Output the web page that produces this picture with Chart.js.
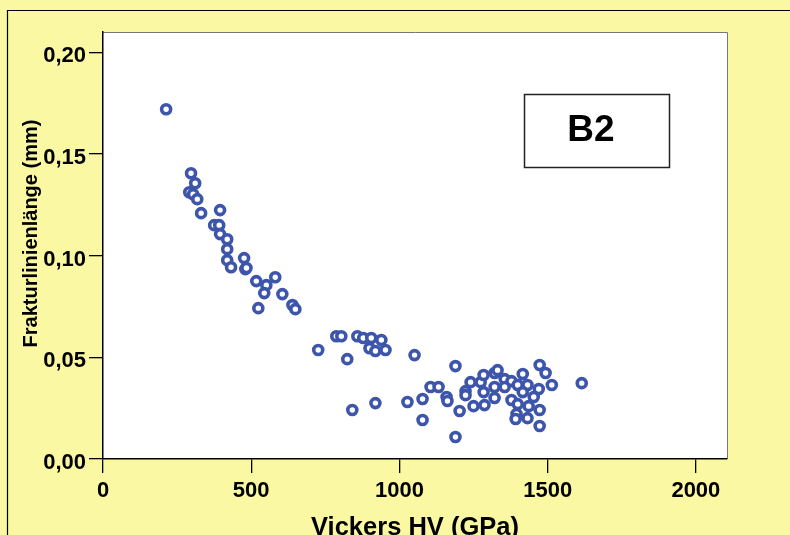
<!DOCTYPE html>
<html>
<head>
<meta charset="utf-8">
<script src="https://cdn.jsdelivr.net/npm/chart.js@4.4.1/dist/chart.umd.min.js"></script>
<style>
  body { margin: 0; background: #FAF8A2; }
  #wrap { width: 790px; height: 535px; }
</style>
</head>
<body>
<div id="wrap"><canvas id="hvChart" width="790" height="535"></canvas></div>
<script>
// Vickers hardness (x) against fracture line length (y), sample B2
const hardness = [213, 297, 311, 291, 304, 318, 331, 395, 375, 392,
  395, 419, 419, 419, 432, 476, 480, 484, 517, 551,
  581, 544, 605, 524, 639, 649, 726, 787, 804, 858,
  878, 905, 939, 899, 919, 953, 824, 1051, 841, 919,
  1027, 1078, 1078, 1105, 1132, 1159, 1162, 1189, 1189, 1203,
  1223, 1223, 1240, 1250, 1274, 1284, 1284, 1287, 1321, 1331,
  1321, 1321, 1355, 1355, 1378, 1399, 1416, 1432, 1416, 1473,
  1493, 1514, 1470, 1453, 1378, 1399, 1436, 1473, 1395, 1392,
  1432, 1473, 1615];
const fractureLength = [0.172, 0.1405, 0.1356, 0.1312, 0.1302, 0.1278, 0.1209, 0.1224, 0.1150, 0.1150,
  0.1106, 0.1081, 0.1032, 0.0978, 0.0943, 0.0988, 0.0934, 0.0939, 0.0875, 0.0855,
  0.0894, 0.0816, 0.0811, 0.0742, 0.0757, 0.0737, 0.0536, 0.0604, 0.0604, 0.0604,
  0.0595, 0.0595, 0.0585, 0.0545, 0.0531, 0.0536, 0.0491, 0.0511, 0.0241, 0.0275,
  0.0280, 0.0295, 0.0192, 0.0354, 0.0354, 0.0305, 0.0285, 0.0457, 0.0108, 0.0236,
  0.0334, 0.0314, 0.0378, 0.0260, 0.0378, 0.0413, 0.0329, 0.0265, 0.0423, 0.0437,
  0.0354, 0.0300, 0.0393, 0.0354, 0.0383, 0.0364, 0.0418, 0.0364, 0.0329, 0.0462,
  0.0423, 0.0364, 0.0344, 0.0305, 0.0290, 0.0270, 0.0260, 0.0241, 0.0221, 0.0197,
  0.0201, 0.0162, 0.0373];
const xTicks = [0, 500, 1000, 1500, 2000];
const yTicks = [0, 0.05, 0.10, 0.15, 0.20];
const sampleLabel = 'B2';

const FONT = '"Liberation Sans", Arial, sans-serif';
const points = hardness.map((h, i) => ({ x: h, y: fractureLength[i] }));

const framePlugin = {
  id: 'frame',
  beforeDraw(chart) {
    const { ctx, chartArea: a } = chart;
    ctx.save();
    ctx.fillStyle = '#FAF8A2';
    ctx.fillRect(0, 0, chart.width, chart.height);
    ctx.strokeStyle = '#000';
    ctx.lineWidth = 1.2;
    ctx.beginPath();
    ctx.moveTo(7.5, chart.height);
    ctx.lineTo(7.5, 10.5);
    ctx.lineTo(chart.width, 10.5);
    ctx.stroke();
    ctx.fillStyle = '#fff';
    ctx.fillRect(a.left, a.top, a.right - a.left, a.bottom - a.top);
    ctx.strokeStyle = '#777';
    ctx.lineWidth = 1;
    ctx.beginPath();
    ctx.moveTo(a.left, a.top + 0.5);
    ctx.lineTo(a.right + 0.5, a.top + 0.5);
    ctx.lineTo(a.right + 0.5, a.bottom);
    ctx.stroke();
    ctx.restore();
  },
  afterDraw(chart) {
    const { ctx } = chart;
    ctx.save();
    // sample label box
    ctx.fillStyle = '#fff';
    ctx.fillRect(524, 94, 145, 73);
    ctx.strokeStyle = '#222';
    ctx.lineWidth = 1.5;
    ctx.strokeRect(524.5, 94.5, 145, 73);
    ctx.fillStyle = '#000';
    ctx.font = 'bold 37px ' + FONT;
    ctx.textAlign = 'center';
    ctx.textBaseline = 'alphabetic';
    ctx.fillText(sampleLabel, 591, 141);
    // y axis title
    ctx.translate(31.5, 233.5);
    ctx.rotate(-Math.PI / 2);
    ctx.font = 'bold 20px ' + FONT;
    ctx.textBaseline = 'middle';
    ctx.fillText('Frakturlinienlänge (mm)', 0, 0);
    ctx.restore();
  }
};

new Chart(document.getElementById('hvChart'), {
  type: 'scatter',
  data: {
    datasets: [{
      label: sampleLabel,
      data: points,
      pointRadius: 4.5,
      pointHoverRadius: 4.5,
      pointBorderWidth: 3.6,
      pointBorderColor: '#3D55AA',
      pointBackgroundColor: '#fff'
    }]
  },
  options: {
    responsive: false,
    animation: false,
    layout: { padding: { top: 32, right: 63, bottom: 0, left: 0 } },
    plugins: { legend: { display: false }, tooltip: { enabled: false } },
    scales: {
      x: {
        type: 'linear',
        min: 0,
        max: 2105,
        afterFit(s) { s.height = 76; },
        afterBuildTicks(s) { s.ticks = xTicks.map(v => ({ value: v })); },
        ticks: {
          includeBounds: false,
          color: '#000',
          padding: 5,
          maxRotation: 0,
          font: { family: FONT, size: 22, weight: 'bold' },
          callback: v => String(v)
        },
        grid: { drawOnChartArea: false, drawTicks: true, tickLength: 14, color: '#000', lineWidth: 1.3 },
        border: { display: true, color: '#000', width: 1.5 },
        title: {
          display: true,
          text: 'Vickers HV (GPa)',
          color: '#000',
          padding: { top: 0, bottom: -6 },
          font: { family: FONT, size: 25.5, weight: 'bold', lineHeight: 1 }
        }
      },
      y: {
        type: 'linear',
        min: 0,
        max: 0.21,
        afterFit(s) { s.width = 103; },
        afterBuildTicks(s) { s.ticks = yTicks.map(v => ({ value: v })); },
        ticks: {
          includeBounds: false,
          color: '#000',
          padding: 3,
          labelOffset: 4,
          font: { family: FONT, size: 22, weight: 'bold' },
          callback: v => v.toFixed(2).replace('.', ',')
        },
        grid: { drawOnChartArea: false, drawTicks: true, tickLength: 14, color: '#000', lineWidth: 1.3 },
        border: { display: true, color: '#000', width: 1.5 }
      }
    }
  },
  plugins: [framePlugin]
});
</script>
</body>
</html>
